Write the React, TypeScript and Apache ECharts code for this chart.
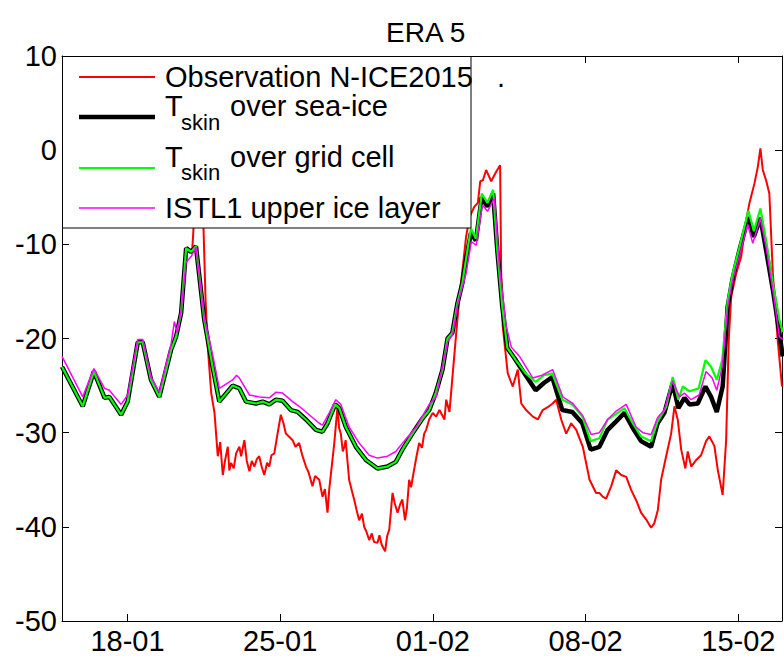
import { useEffect, useRef } from 'react';
import * as echarts from 'echarts';

const FONT = '"Liberation Sans", Arial, Helvetica, sans-serif';

// x values are days since 15-01 00:00
const xMinDay = 0;
const xMaxDay = 33;
const xTickDays = [3, 10, 17, 24, 31];
const xTickLabels = ['18-01', '25-01', '01-02', '08-02', '15-02'];

const observation: [number, number][] = [
  [5.96, -11.0], [6.06, -7.0], [6.12, -3.0], [6.25, -2.0], [6.4, -3.0], [6.47, -7.0], [6.58, -15.9],
  [6.68, -20.9], [6.84, -25.8], [6.99, -27.9], [7.14, -32.5], [7.25, -31.0], [7.37, -34.5], [7.47, -33.0],
  [7.6, -31.5], [7.67, -34.0], [7.75, -33.2], [7.87, -33.8], [7.98, -32.2], [8.13, -31.5], [8.21, -32.5],
  [8.36, -30.8], [8.47, -33.0], [8.59, -34.1], [8.7, -33.0], [8.82, -33.6], [8.93, -32.8], [9.04, -32.5],
  [9.15, -33.6], [9.27, -34.5], [9.4, -33.2], [9.5, -33.6], [9.6, -32.4], [9.73, -32.2], [9.88, -30.1],
  [10.03, -28.1], [10.15, -29.0], [10.26, -30.1], [10.4, -30.4], [10.57, -30.8], [10.7, -31.5],
  [10.87, -31.1], [11.0, -32.3], [11.18, -33.6], [11.3, -34.2], [11.48, -35.7], [11.6, -34.6],
  [11.79, -35.0], [11.94, -36.8], [12.05, -36.0], [12.17, -38.5], [12.25, -36.0], [12.33, -34.3],
  [12.48, -31.1], [12.63, -27.2], [12.7, -29.5], [12.78, -30.1], [12.87, -32.0], [12.94, -31.5],
  [13.0, -30.8], [13.16, -35.0], [13.3, -36.3], [13.39, -37.1], [13.5, -38.2], [13.62, -39.3],
  [13.75, -38.6], [13.85, -40.0], [13.95, -40.5], [14.08, -41.4], [14.2, -40.7], [14.3, -41.6],
  [14.46, -41.7], [14.55, -40.9], [14.65, -41.9], [14.81, -42.6], [14.9, -41.0], [15.0, -40.3],
  [15.15, -36.4], [15.25, -37.5], [15.38, -38.5], [15.5, -37.6], [15.6, -37.1], [15.72, -39.3],
  [15.81, -38.0], [15.91, -35.0], [16.0, -35.8], [16.14, -33.9], [16.25, -32.5], [16.37, -31.1],
  [16.5, -31.6], [16.6, -30.1], [16.69, -29.7], [16.83, -28.6], [16.99, -27.9], [17.15, -28.3],
  [17.3, -27.6], [17.53, -28.6], [17.61, -26.5], [17.76, -27.8], [17.91, -23.7], [18.07, -19.4],
  [18.22, -15.5], [18.37, -12.4], [18.52, -9.2], [18.68, -7.1], [18.9, -6.0], [19.06, -5.6],
  [19.17, -3.3], [19.29, -3.2], [19.44, -2.1], [19.67, -3.3], [19.9, -2.3], [20.08, -1.6],
  [20.13, -13.1], [20.2, -18.7], [20.43, -23.7], [20.66, -25.1], [20.89, -23.3], [21.05, -26.9],
  [21.27, -27.6], [21.58, -28.3], [21.81, -28.6], [22.03, -27.6], [22.26, -27.3], [22.49, -26.9],
  [22.65, -26.5], [22.88, -28.6], [23.11, -30.1], [23.34, -29.0], [23.57, -29.7], [23.87, -31.5],
  [24.18, -35.0], [24.48, -36.4], [24.63, -36.4], [24.78, -36.8], [24.94, -37.0], [25.17, -35.7],
  [25.4, -34.0], [25.63, -34.5], [25.86, -34.7], [26.09, -36.1], [26.32, -37.2], [26.54, -38.5],
  [26.77, -39.2], [27.0, -40.1], [27.15, -39.6], [27.31, -38.2], [27.46, -35.0], [27.69, -32.5],
  [27.92, -30.1], [28.07, -27.2], [28.22, -28.6], [28.38, -31.8], [28.57, -33.8], [28.68, -32.0],
  [28.84, -33.6], [29.07, -32.9], [29.29, -32.4], [29.52, -30.9], [29.67, -30.4], [29.9, -31.4],
  [30.06, -34.0], [30.28, -36.6], [30.44, -30.8], [30.56, -20.1], [30.67, -15.6], [30.9, -13.1],
  [31.13, -11.3], [31.36, -7.4], [31.51, -5.6], [31.74, -3.5], [31.89, -1.8], [32.01, 0.2],
  [32.12, -2.1], [32.27, -3.2], [32.42, -4.6], [32.58, -13.1], [32.8, -20.1], [33.0, -25.1],
];

const tskinSeaIce: [number, number][] = [
  [0.0, -23.0], [0.95, -27.2], [1.46, -23.5], [1.95, -26.3], [2.17, -26.2], [2.71, -28.1], [3.01, -26.7],
  [3.47, -20.4], [3.7, -20.4], [4.08, -24.4], [4.46, -26.2], [5.0, -21.2], [5.23, -19.8], [5.46, -17.3],
  [5.69, -10.4], [5.92, -10.8], [6.14, -10.2], [6.52, -18.0], [6.9, -23.0], [7.21, -26.7], [7.82, -25.0],
  [8.13, -25.3], [8.43, -26.7], [8.89, -26.9], [9.2, -26.7], [9.5, -27.0], [9.81, -26.5], [10.11, -26.6],
  [10.49, -27.6], [10.8, -27.8], [11.18, -28.6], [11.64, -29.7], [11.94, -29.9], [12.17, -29.0],
  [12.52, -27.0], [12.71, -27.4], [13.01, -29.4], [13.47, -31.5], [13.93, -32.9], [14.46, -33.8],
  [14.92, -33.6], [15.3, -33.1], [15.6, -31.8], [16.06, -30.1], [16.52, -28.5], [16.83, -27.6],
  [17.13, -25.8], [17.44, -23.3], [17.67, -20.0], [17.89, -19.4], [18.12, -16.3], [18.35, -14.1],
  [18.51, -11.7], [18.74, -8.8], [18.97, -9.6], [19.24, -5.0], [19.5, -6.0], [19.76, -4.6],
  [19.95, -10.6], [20.18, -16.6], [20.41, -21.0], [20.8, -22.3], [21.25, -23.9], [21.71, -25.5],
  [22.1, -24.7], [22.47, -24.1], [22.93, -27.6], [23.39, -27.8], [23.85, -29.0], [24.23, -31.8],
  [24.63, -31.5], [25.01, -29.7], [25.4, -28.8], [25.78, -27.9], [26.16, -29.5], [26.54, -30.9],
  [27.0, -31.5], [27.3, -29.0], [27.61, -27.9], [27.99, -24.7], [28.25, -27.4], [28.53, -26.3],
  [28.76, -27.0], [29.14, -26.9], [29.49, -25.1], [29.75, -26.2], [30.01, -27.8], [30.28, -25.1],
  [30.51, -16.6], [30.74, -13.6], [31.05, -10.6], [31.46, -7.1], [31.71, -9.2], [32.01, -7.2],
  [32.27, -10.6], [32.58, -14.8], [32.88, -19.4], [33.03, -21.9],
];

const tskinGridCell: [number, number][] = [
  [0.0, -23.0], [0.95, -27.2], [1.46, -23.5], [1.95, -26.3], [2.17, -26.2], [2.71, -28.1], [3.01, -26.7],
  [3.47, -20.4], [3.7, -20.4], [4.08, -24.4], [4.46, -26.2], [5.0, -21.2], [5.23, -19.8], [5.46, -17.3],
  [5.69, -10.4], [5.92, -10.8], [6.14, -10.2], [6.52, -18.0], [6.9, -23.0], [7.21, -26.7], [7.82, -25.0],
  [8.13, -25.3], [8.43, -26.7], [8.89, -26.9], [9.2, -26.7], [9.5, -27.0], [9.81, -26.5], [10.11, -26.6],
  [10.49, -27.6], [10.8, -27.8], [11.18, -28.6], [11.64, -29.7], [11.94, -29.9], [12.17, -29.0],
  [12.52, -27.0], [12.71, -27.4], [13.01, -29.4], [13.47, -31.5], [13.93, -32.9], [14.46, -33.8],
  [14.92, -33.6], [15.3, -33.1], [15.6, -31.8], [16.06, -30.1], [16.52, -28.5], [16.83, -27.6],
  [17.13, -25.8], [17.44, -23.3], [17.67, -20.0], [17.89, -19.4], [18.12, -16.3], [18.35, -14.1],
  [18.51, -11.7], [18.74, -8.3], [18.97, -9.4], [19.24, -4.6], [19.5, -5.6], [19.76, -4.2],
  [19.95, -10.6], [20.18, -16.6], [20.41, -21.0], [20.8, -22.3], [21.25, -23.7], [21.71, -24.6],
  [22.1, -23.9], [22.47, -23.7], [22.93, -26.5], [23.39, -27.0], [23.85, -28.3], [24.23, -30.9],
  [24.63, -30.6], [25.01, -28.6], [25.4, -28.0], [25.78, -27.4], [26.16, -29.0], [26.54, -30.4],
  [27.0, -30.9], [27.3, -28.8], [27.69, -27.3], [27.99, -24.1], [28.25, -26.5], [28.45, -25.1],
  [28.76, -25.6], [29.18, -25.3], [29.49, -22.3], [29.75, -23.0], [30.01, -24.4], [30.26, -22.3],
  [30.51, -16.0], [30.74, -13.1], [31.05, -10.3], [31.46, -6.4], [31.71, -8.6], [32.01, -6.2],
  [32.27, -9.6], [32.58, -14.1], [32.88, -18.0], [33.03, -19.3],
];

const istl1UpperIce: [number, number][] = [
  [0.0, -21.9], [0.95, -26.2], [1.46, -23.2], [1.95, -25.3], [2.17, -25.5], [2.71, -27.0], [3.01, -26.0],
  [3.47, -20.1], [3.7, -20.1], [4.08, -24.1], [4.46, -25.7], [5.0, -20.6], [5.15, -18.2], [5.28, -19.4],
  [5.46, -17.0], [5.69, -11.9], [5.92, -11.3], [6.14, -10.3], [6.52, -17.8], [6.9, -21.7], [7.21, -25.3],
  [7.82, -24.4], [8.0, -23.9], [8.13, -24.2], [8.59, -26.0], [9.04, -26.2], [9.5, -26.3], [9.81, -25.7],
  [10.11, -25.8], [10.57, -26.7], [10.87, -27.2], [11.33, -28.1], [11.79, -29.0], [11.94, -29.2],
  [12.25, -27.9], [12.55, -26.5], [12.78, -27.0], [13.16, -29.4], [13.62, -31.1], [14.08, -32.4],
  [14.46, -32.7], [14.92, -32.5], [15.3, -32.0], [15.68, -30.9], [16.23, -29.4], [16.83, -27.0],
  [17.15, -26.2], [17.68, -20.3], [17.9, -19.6], [18.14, -16.3], [18.52, -13.1], [18.76, -9.7],
  [18.98, -10.1], [19.27, -5.8], [19.5, -6.5], [19.82, -5.1], [20.05, -12.4], [20.36, -18.7],
  [20.59, -20.9], [20.97, -21.9], [21.58, -24.2], [22.0, -23.9], [22.49, -23.3], [22.95, -26.2],
  [23.41, -26.9], [23.87, -28.2], [24.25, -30.2], [24.63, -30.0], [25.01, -28.6], [25.4, -27.7],
  [25.86, -27.0], [26.31, -29.4], [26.62, -30.0], [27.0, -30.2], [27.3, -28.4], [27.61, -27.6],
  [27.99, -24.5], [28.3, -26.2], [28.53, -25.8], [28.83, -26.5], [29.2, -26.0], [29.52, -23.5],
  [29.8, -24.2], [30.01, -25.5], [30.26, -23.0], [30.51, -16.6], [30.74, -13.8], [31.05, -11.2],
  [31.43, -7.9], [31.66, -9.9], [32.01, -7.2], [32.27, -10.3], [32.58, -14.8], [32.88, -19.8],
  [33.03, -20.1],
];

const labelForDay = (v: number) => {
  const i = xTickDays.indexOf(Math.round(v));
  return i >= 0 ? xTickLabels[i] : '';
};

export default function App() {
  const ref = useRef<HTMLDivElement>(null);

  useEffect(() => {
    const chart = echarts.init(ref.current!, null, { renderer: 'svg' });
    const axisLine = { show: true, onZero: false, lineStyle: { color: '#000', width: 1 } };
    const xTick = { show: true, inside: true, length: 7, customValues: xTickDays, lineStyle: { color: '#000', width: 1 } };
    const yTick = { show: true, inside: true, length: 7, lineStyle: { color: '#000', width: 1 } };
    const legendText = (text: string, x: number, y: number, size = 29) => ({
      type: 'text', x, y, z: 101,
      style: {
        text, fontSize: size, lineHeight: Math.round(size * 0.78), fontFamily: FONT,
        fill: '#000', align: 'left', verticalAlign: 'middle',
      },
    });
    const legendLine = (y: number, color: string, width: number) => ({
      type: 'line', z: 101,
      shape: { x1: 79, y1: y, x2: 155, y2: y },
      style: { stroke: color, lineWidth: width },
    });

    chart.setOption({
      animation: false,
      backgroundColor: '#fff',
      title: {
        text: 'ERA 5', left: 381, top: 13,
        textStyle: { fontSize: 28, fontWeight: 'normal', color: '#000', fontFamily: FONT },
      },
      grid: { left: 62, top: 56, width: 720, height: 565 },
      xAxis: [
        {
          type: 'value', min: xMinDay, max: xMaxDay, position: 'bottom',
          axisLine, axisTick: xTick, splitLine: { show: false },
          axisLabel: {
            customValues: xTickDays, formatter: labelForDay, fontSize: 29,
            fontFamily: FONT, color: '#000', margin: 5,
          },
        },
        {
          type: 'value', min: xMinDay, max: xMaxDay, position: 'top',
          axisLine, axisTick: xTick, splitLine: { show: false }, axisLabel: { show: false },
        },
      ],
      yAxis: [
        {
          type: 'value', min: -50, max: 10, interval: 10, position: 'left',
          axisLine, axisTick: yTick, splitLine: { show: false },
          axisLabel: { fontSize: 29, fontFamily: FONT, color: '#000', margin: 5 },
        },
        {
          type: 'value', min: -50, max: 10, interval: 10, position: 'right',
          axisLine, axisTick: yTick, splitLine: { show: false }, axisLabel: { show: false },
        },
      ],
      series: [
        {
          name: 'Observation N-ICE2015', type: 'line', data: observation, showSymbol: false,
          lineStyle: { color: '#ff0000', width: 2 }, z: 2,
        },
        {
          name: 'Tskin over sea-ice', type: 'line', data: tskinSeaIce, showSymbol: false,
          lineStyle: { color: '#000000', width: 4.5 }, z: 3,
        },
        {
          name: 'Tskin over grid cell', type: 'line', data: tskinGridCell, showSymbol: false,
          lineStyle: { color: '#00ff00', width: 2.2 }, z: 4,
        },
        {
          name: 'ISTL1 upper ice layer', type: 'line', data: istl1UpperIce, showSymbol: false,
          lineStyle: { color: '#ff00ff', width: 1.5 }, z: 5,
        },
      ],
      graphic: {
        elements: [
          {
            type: 'rect', z: 100,
            shape: { x: 62.5, y: 56.5, width: 408.5, height: 171.5 },
            style: { fill: '#fff', stroke: '#000', lineWidth: 1 },
          },
          legendLine(77, '#ff0000', 2),
          legendText('Observation N-ICE2015', 165, 77),
          legendText('.', 497, 77),
          legendLine(117, '#000000', 4.5),
          legendText('T', 165, 106),
          legendText('skin', 181, 122, 22),
          legendText('over sea-ice', 230, 106),
          legendLine(168, '#00ff00', 2.2),
          legendText('T', 165, 157),
          legendText('skin', 181, 172, 22),
          legendText('over grid cell', 230, 157),
          legendLine(208, '#ff00ff', 1.5),
          legendText('ISTL1 upper ice layer', 165, 208),
        ],
      },
    });
    return () => chart.dispose();
  }, []);

  return (
    <div
      ref={ref}
      style={{ position: 'fixed', left: 0, top: 0, width: 784, height: 656, background: '#fff' }}
    />
  );
}
